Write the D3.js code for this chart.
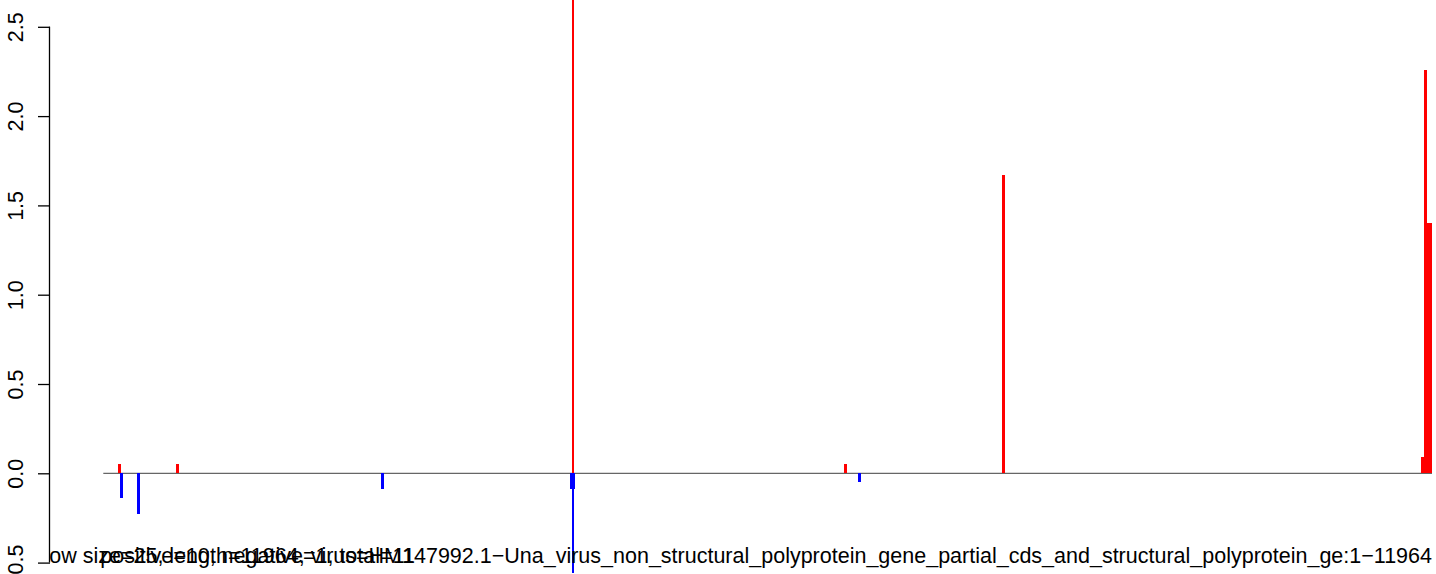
<!DOCTYPE html>
<html><head><meta charset="utf-8">
<script src="https://cdn.jsdelivr.net/npm/d3@7"></script>
<style>html,body{margin:0;padding:0;background:#fff;}svg{display:block;}</style>
</head><body>
<script>
// ---- data ----
const seqLength = 11964;
const windowSize = 25;
const posStarts = [133, 655, 4217, 6668, 8091, 11863, 11890, 11917, 11937];
const posValues = [0.05, 0.05, 3.2, 0.05, 1.67, 0.09, 2.26, 1.40, 1.40];
const negStarts = [151, 304, 2501, 4202, 4220, 4217, 6795];
const negValues = [-0.14, -0.23, -0.09, -0.09, -0.09, -0.56, -0.05];
const yTicks = [-0.5, 0, 0.5, 1.0, 1.5, 2.0, 2.5];
const yTickLabels = ["-0.5", "0.0", "0.5", "1.0", "1.5", "2.0", "2.5"];
const titleText = "window size=25, length=11964, virus=HM147992.1\u2212Una_virus_non_structural_polyprotein_gene_partial_cds_and_structural_polyprotein_ge:1\u221211964";
const countText = "positive=10, negative=1, total=11";

// ---- layout ----
const W = 1436, H = 574;
const fontSize = 21.5;
const font = "'Liberation Sans', Arial, Helvetica, sans-serif";
const x = d3.scaleLinear().domain([1, seqLength]).range([103.3, 1432]);
const y = d3.scaleLinear().domain([-0.5, 2.5]).range([562.6, 26.8]);
const plotLeft = 50;

const svg = d3.select("body").append("svg").attr("width", W).attr("height", H)
  .style("font-family", font);

const defs = svg.append("defs");
defs.append("clipPath").attr("id", "plotclip").append("rect")
  .attr("x", plotLeft).attr("y", 0).attr("width", W - plotLeft).attr("height", H);

const plot = svg.append("g").attr("clip-path", "url(#plotclip)");

// baseline
plot.append("line")
  .attr("x1", x(1)).attr("x2", x(seqLength))
  .attr("y1", y(0)).attr("y2", y(0))
  .attr("stroke", "#666").attr("stroke-width", 1.2);

// positive bars
plot.selectAll("rect.pos").data(posStarts.map((s, i) => ({s, v: posValues[i]})))
  .join("rect").attr("class", "pos")
  .attr("x", d => x(d.s)).attr("width", d => x(d.s + windowSize) - x(d.s))
  .attr("y", d => y(d.v)).attr("height", d => y(0) - y(d.v))
  .attr("fill", "#ff0000").attr("shape-rendering", "crispEdges");

// negative bars
plot.selectAll("rect.neg").data(negStarts.map((s, i) => ({s, v: negValues[i]})))
  .join("rect").attr("class", "neg")
  .attr("x", d => x(d.s)).attr("width", d => x(d.s + windowSize) - x(d.s))
  .attr("y", y(0)).attr("height", d => y(d.v) - y(0))
  .attr("fill", "#0000ff").attr("shape-rendering", "crispEdges");

// texts at bottom (clipped to plot region)
plot.append("text").attr("x", x(seqLength)).attr("y", 563)
  .attr("text-anchor", "end").attr("font-size", fontSize).attr("fill", "#000")
  .text(titleText);
plot.append("text").attr("x", x(1) - 3).attr("y", 563)
  .attr("text-anchor", "start").attr("font-size", fontSize).attr("fill", "#000")
  .text(countText);

// y axis
const yAxis = d3.axisLeft(y).tickValues(yTicks)
  .tickFormat((d, i) => yTickLabels[i]).tickSize(12).tickPadding(0);
const ag = svg.append("g").attr("transform", `translate(${plotLeft},0)`).call(yAxis);
ag.select(".domain").attr("d", `M-0.5,${y(2.5)}V${y(-0.5)}`).attr("stroke", "#000").attr("stroke-width", 1.3);
ag.selectAll(".tick line").attr("stroke", "#000").attr("stroke-width", 1.3);
ag.selectAll(".tick text")
  .attr("font-size", fontSize).attr("font-family", font).attr("fill", "#000")
  .attr("x", null).attr("dy", null)
  .attr("text-anchor", "middle")
  .attr("transform", "translate(-27,0) rotate(-90)");
</script>
</body></html>
